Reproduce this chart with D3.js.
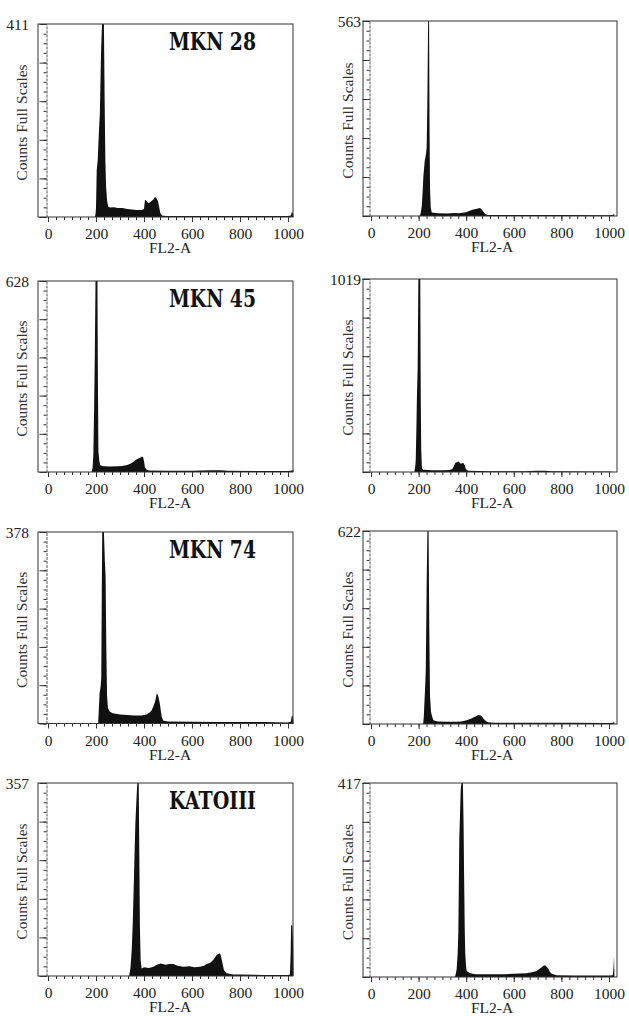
<!DOCTYPE html>
<html><head><meta charset="utf-8">
<script src="https://cdn.jsdelivr.net/npm/d3@7"></script>
<style>body{margin:0;background:#fff}svg{display:block}</style>
</head><body>
<script>
// ---- DATA (channel, count) ----
const cellLines = ["MKN 28", "MKN 45", "MKN 74", "KATOIII"];
const maxCounts = [411, 563, 628, 1019, 378, 622, 357, 417];
const xTickLabels = [0, 200, 400, 600, 800, 1000];
const axisTitleX = "FL2-A";
const axisTitleY = "Counts Full Scales";

const mkn28Left = [[0,0],[195,0],[198,6],[200,20],[203,100],[207,120],[212,180],[216,220],[221,350],[225,411],[233,411],[236,250],[239,120],[242,65],[246,35],[251,22],[260,20],[275,21],[290,19],[310,19],[330,17],[350,16],[370,15],[390,15],[400,17],[404,36],[410,35],[417,30],[424,31],[431,34],[438,37],[446,43],[452,40],[458,34],[463,22],[468,8],[475,3],[490,2],[700,2],[1000,2],[1012,3],[1017,12],[1021,6],[1023,0]];
const mkn28Right = [[0,0],[204,0],[208,6],[213,27],[217,70],[220,113],[226,160],[231,178],[234,200],[237,340],[240,563],[244,563],[246,250],[248,80],[251,25],[255,10],[280,8],[320,7],[350,9],[370,8],[400,11],[415,15],[430,19],[445,21],[458,23],[466,18],[472,12],[480,6],[490,3],[600,3],[800,3],[1000,2],[1018,3],[1021,8],[1023,0]];
const mkn45Left = [[0,0],[182,0],[186,15],[189,60],[192,200],[195,380],[198,628],[206,628],[208,300],[210,69],[214,35],[218,22],[230,19],[260,18],[290,19],[310,20],[330,23],[345,28],[355,33],[362,38],[369,41],[376,44],[383,46],[390,50],[396,50],[400,35],[404,16],[410,8],[420,5],[500,4],[600,4],[680,6],[720,6],[750,4],[900,3],[1000,3],[1018,5],[1022,8],[1023,0]];
const mkn45Right = [[0,0],[182,0],[186,30],[188,65],[191,250],[193,400],[196,540],[199,1019],[207,1019],[209,400],[211,120],[214,20],[220,12],[260,9],[300,9],[330,10],[342,16],[348,30],[354,48],[360,52],[367,55],[372,50],[377,44],[382,46],[388,48],[394,35],[398,17],[404,9],[410,6],[500,4],[650,4],[690,7],[735,7],[760,4],[900,3],[1000,3],[1023,0]];
const mkn74Left = [[0,0],[209,0],[212,30],[215,60],[219,72],[222,90],[224,250],[226,378],[233,378],[237,320],[240,290],[243,150],[246,55],[250,30],[258,23],[270,20],[300,18],[330,17],[360,16],[390,16],[411,18],[425,22],[432,26],[440,35],[446,43],[450,52],[453,59],[457,57],[460,53],[464,44],[467,36],[471,22],[474,13],[480,6],[500,4],[700,3],[900,3],[1000,2],[1012,4],[1016,16],[1020,14],[1023,0]];
const mkn74Right = [[0,0],[219,0],[222,25],[224,61],[227,110],[230,168],[232,300],[234,460],[237,622],[242,622],[245,300],[248,90],[252,40],[255,29],[262,12],[280,8],[320,7],[360,7],[380,8],[402,12],[420,17],[430,21],[441,25],[451,29],[458,28],[465,26],[472,18],[479,12],[486,8],[493,6],[520,4],[700,4],[850,4],[1000,3],[1018,4],[1021,9],[1023,0]];
const katoLeft = [[0,0],[338,0],[341,8],[344,17],[349,50],[353,96],[358,179],[364,282],[369,330],[372,357],[378,357],[380,250],[383,90],[386,30],[390,14],[400,16],[420,15],[440,17],[453,21],[470,23],[490,21],[505,22],[522,22],[540,19],[564,17],[590,18],[610,16],[633,17],[650,19],[661,22],[675,24],[689,30],[703,39],[714,42],[719,40],[724,30],[733,11],[744,5],[772,3],[800,3],[900,2],[1000,2],[1008,3],[1011,40],[1013,94],[1018,94],[1021,60],[1023,0]];
const katoRight = [[0,0],[352,0],[356,6],[360,17],[364,50],[367,96],[371,296],[377,404],[380,417],[386,417],[389,330],[391,225],[394,100],[396,52],[399,25],[402,13],[416,8],[440,6],[500,6],[560,6],[598,7],[654,8],[680,11],[696,13],[707,17],[717,21],[724,24],[731,25],[738,22],[745,18],[752,11],[759,7],[780,4],[850,3],[1000,3],[1016,4],[1019,20],[1021,45],[1023,0]];

const histograms = [mkn28Left, mkn28Right, mkn45Left, mkn45Right, mkn74Left, mkn74Right, katoLeft, katoRight];

// ---- LAYOUT ----
const W = 629, H = 1016;
const cols = [
  {fl: 38, fr: 293, x0: 48, x1: 288, maxX: 29, ylX: 21},
  {fl: 363, fr: 617, x0: 371, x1: 609, maxX: 361, ylX: 347}
];
const frames = [
  [24, 217], [21, 216],
  [281, 472], [279, 472],
  [532, 723.5], [531, 724],
  [783, 976], [783, 977]
];
const serif = "'Liberation Serif','Times New Roman',serif";

const svg = d3.select("body").append("svg").attr("width", W).attr("height", H);

histograms.forEach((data, i) => {
  const c = cols[i % 2];
  const [top, bottom] = frames[i];
  const max = maxCounts[i];
  const g = svg.append("g");

  const x = d3.scaleLinear().domain([0, 1000]).range([c.x0, c.x1]);
  const y = d3.scaleLinear().domain([0, max]).range([bottom, top]).clamp(true);

  // histogram
  g.append("path")
    .datum(data)
    .attr("fill", "#111")
    .attr("d", d3.area().x(d => x(d[0])).y0(bottom).y1(d => y(d[1])));

  // frame
  g.append("rect")
    .attr("x", c.fl).attr("y", top)
    .attr("width", c.fr - c.fl).attr("height", bottom - top)
    .attr("fill", "none").attr("stroke", "#333").attr("stroke-width", 1);

  // x axis
  const minorX = d3.range(0, 31).map(k => k * 200 / 6);
  const gxm = g.append("g").attr("transform", `translate(0,${bottom})`)
    .call(d3.axisBottom(x).tickValues(minorX).tickSize(3).tickSizeOuter(0).tickFormat(""));
  gxm.select(".domain").remove();
  const gx = g.append("g").attr("transform", `translate(0,${bottom})`)
    .call(d3.axisBottom(x).tickValues(xTickLabels).tickSize(5).tickSizeOuter(0)
      .tickPadding(6).tickFormat(d3.format("d")));
  gx.select(".domain").remove();
  gx.selectAll("text").attr("font-family", serif).attr("font-size", 15.5).attr("fill", "#222");
  g.selectAll(".tick line").attr("stroke", "#333");

  // y axis
  const minorY = d3.range(0, 21).map(k => k * max / 20);
  const majorY = d3.range(0, 6).map(k => k * max / 5);
  const ax = c.x0 - 1.5;
  const gym = g.append("g").attr("transform", `translate(${ax},0)`)
    .call(d3.axisLeft(y).tickValues(minorY).tickSize(3).tickSizeOuter(0).tickFormat(""));
  gym.select(".domain").attr("stroke", "#555").attr("stroke-dasharray", "3,1");
  const gy = g.append("g").attr("transform", `translate(${ax},0)`)
    .call(d3.axisLeft(y).tickValues(majorY).tickSize(7).tickSizeOuter(0).tickFormat(""));
  gy.select(".domain").remove();
  g.selectAll(".tick line").attr("stroke", "#333");

  // max count label
  g.append("text").attr("x", c.maxX).attr("y", top)
    .attr("text-anchor", "end").attr("dominant-baseline", "central")
    .attr("font-family", serif).attr("font-size", 15.5).attr("fill", "#222")
    .text(max);

  // y title
  g.append("text")
    .attr("transform", `translate(${c.ylX},${(top + bottom) / 2 + 2}) rotate(-90)`)
    .attr("text-anchor", "middle").attr("dominant-baseline", "central")
    .attr("font-family", serif).attr("font-size", 15.5).attr("fill", "#333")
    .text(axisTitleY);

  // x title
  g.append("text")
    .attr("x", (c.x0 + c.x1) / 2 + 2).attr("y", bottom + 36)
    .attr("text-anchor", "middle")
    .attr("font-family", serif).attr("font-size", 15.5).attr("fill", "#222")
    .text(axisTitleX);

  // cell line label (left column)
  if (i % 2 === 0) {
    g.append("text")
      .attr("x", 169).attr("y", top + 26)
      .attr("font-family", "'DejaVu Serif',serif").attr("font-weight", "bold")
      .attr("font-size", 24).attr("fill", "#111")
      .attr("textLength", 87).attr("lengthAdjust", "spacingAndGlyphs")
      .text(cellLines[i / 2]);
  }
});
</script>
</body></html>
